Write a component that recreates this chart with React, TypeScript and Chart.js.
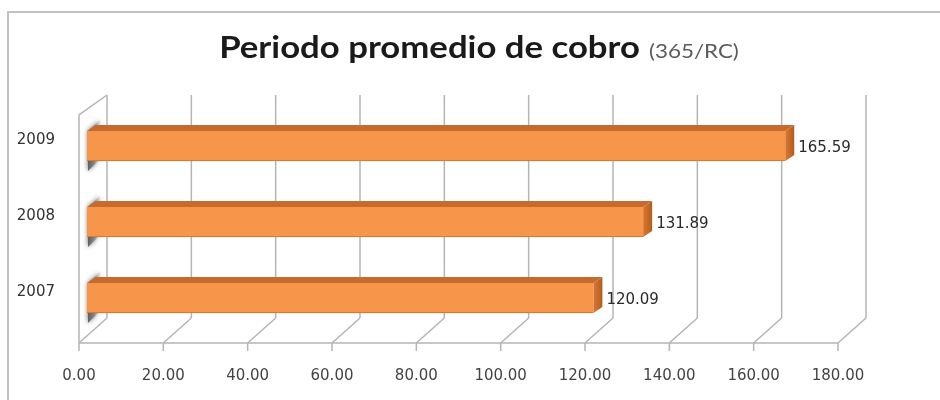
import React, { useEffect, useRef } from 'react';
import { Chart, registerables } from 'chart.js';

Chart.register(...registerables);

// ---- data ----
const years: string[] = ['2009', '2008', '2007'];
const values: number[] = [165.59, 131.89, 120.09];
const xMin = 0;
const xMax = 180;
const xStep = 20;
const titleMain = 'Periodo promedio de cobro';
const titleSub = '(365/RC)';

// ---- 3D geometry (offsets relative to the bar plane) ----
const FRONT = { dx: -8, dy: 7 };
const BACK = { dx: 20, dy: -18 };
const BAR_DEPTH = { dx: 9, dy: -6 };

const GRID = '#b4b4b4';

const chart3dPlugin = {
  id: 'chart3d',
  beforeDraw(chart: any) {
    const { ctx, width, height } = chart;
    ctx.save();
    ctx.fillStyle = '#ffffff';
    ctx.fillRect(0, 0, width, height);
    // outer frame
    ctx.strokeStyle = '#c2c2c2';
    ctx.lineWidth = 2;
    ctx.beginPath();
    ctx.moveTo(8, height);
    ctx.lineTo(8, 12);
    ctx.lineTo(width, 12);
    ctx.stroke();
    // title (horizontally stretched to mimic the condensed original face)
    ctx.textBaseline = 'alphabetic';
    ctx.textAlign = 'left';
    const sx = 1.12;
    ctx.font = 'bold 31px Lato';
    const w1 = ctx.measureText(titleMain).width * sx;
    ctx.font = '20px Lato';
    const w2 = ctx.measureText(titleSub).width * sx;
    const gap = 9;
    const cx = (width + 18) / 2;
    const x0 = cx - (w1 + gap + w2) / 2;
    const base = 58;
    ctx.save();
    ctx.translate(x0, base);
    ctx.scale(sx, 1);
    ctx.fillStyle = '#1a1a1a';
    ctx.font = 'bold 31px Lato';
    ctx.fillText(titleMain, 0, 0);
    ctx.restore();
    ctx.save();
    ctx.translate(x0 + w1 + gap, base);
    ctx.scale(sx, 1);
    ctx.fillStyle = '#5a5a5a';
    ctx.font = '20px Lato';
    ctx.fillText(titleSub, 0, 0);
    ctx.restore();
    ctx.restore();
  },
  beforeDatasetsDraw(chart: any) {
    const { ctx, chartArea, scales } = chart;
    const xs = scales.x;
    const top = chartArea.top;
    const bottom = chartArea.bottom;
    ctx.save();
    ctx.strokeStyle = GRID;
    ctx.lineWidth = 1.5;
    const ticks: number[] = [];
    for (let v = xMin; v <= xMax + 1e-9; v += xStep) ticks.push(v);
    const backTop = top - 13;
    const backBottom = bottom + BACK.dy;
    const frontY = bottom + FRONT.dy;
    ticks.forEach((v) => {
      const px = xs.getPixelForValue(v);
      ctx.beginPath();
      ctx.moveTo(px + BACK.dx, backTop);
      ctx.lineTo(px + BACK.dx, backBottom);
      ctx.stroke();
      ctx.beginPath();
      ctx.moveTo(px + FRONT.dx, frontY);
      ctx.lineTo(px + BACK.dx, backBottom);
      ctx.stroke();
      ctx.beginPath();
      ctx.moveTo(px + FRONT.dx, frontY);
      ctx.lineTo(px + FRONT.dx, frontY + 8);
      ctx.stroke();
    });
    const p0 = xs.getPixelForValue(xMin);
    const p1 = xs.getPixelForValue(xMax);
    ctx.beginPath();
    ctx.moveTo(p0 + FRONT.dx, frontY);
    ctx.lineTo(p1 + FRONT.dx, frontY);
    ctx.stroke();
    const wallFrontTop = top + 7;
    ctx.beginPath();
    ctx.moveTo(p0 + FRONT.dx, frontY);
    ctx.lineTo(p0 + FRONT.dx, wallFrontTop);
    ctx.lineTo(p0 + BACK.dx, backTop);
    ctx.stroke();

    // bar shadows on the left wall
    const meta = chart.getDatasetMeta(0);
    meta.data.forEach((bar: any) => {
      const { y, base, height } = bar.getProps(['y', 'base', 'height'], true);
      const t = y - height / 2;
      const b = y + height / 2;
      ctx.save();
      ctx.shadowColor = 'rgba(60,60,60,0.9)';
      ctx.shadowBlur = 5;
      const g = ctx.createLinearGradient(base, 0, base + 13, 0);
      g.addColorStop(0, 'rgba(80,80,80,0.95)');
      g.addColorStop(0.6, 'rgba(130,130,130,0.7)');
      g.addColorStop(1, 'rgba(190,190,190,0.3)');
      ctx.fillStyle = g;
      ctx.beginPath();
      ctx.moveTo(base + 1, b + 10);
      ctx.lineTo(base + 1, t);
      ctx.lineTo(base + 13, t - 11);
      ctx.lineTo(base + 13, b - 2);
      ctx.closePath();
      ctx.fill();
      ctx.restore();
    });
    ctx.restore();
  },
  afterDatasetsDraw(chart: any) {
    const { ctx } = chart;
    const meta = chart.getDatasetMeta(0);
    ctx.save();
    meta.data.forEach((bar: any, i: number) => {
      const { x, y, base, height } = bar.getProps(['x', 'y', 'base', 'height'], true);
      const t = y - height / 2;
      const b = y + height / 2;
      const dx = BAR_DEPTH.dx;
      const dy = BAR_DEPTH.dy;
      // top face
      ctx.fillStyle = '#c66a2d';
      ctx.beginPath();
      ctx.moveTo(base, t);
      ctx.lineTo(x, t);
      ctx.lineTo(x + dx, t + dy);
      ctx.lineTo(base + dx, t + dy);
      ctx.closePath();
      ctx.fill();
      // right face
      const g = ctx.createLinearGradient(x, 0, x + dx, 0);
      g.addColorStop(0, '#d9782f');
      g.addColorStop(1, '#b35c20');
      ctx.fillStyle = g;
      ctx.beginPath();
      ctx.moveTo(x, t);
      ctx.lineTo(x + dx, t + dy);
      ctx.lineTo(x + dx, b + dy);
      ctx.lineTo(x, b);
      ctx.closePath();
      ctx.fill();
      // value label
      ctx.fillStyle = '#2a2a2a';
      ctx.font = '15px "DejaVu Sans"';
      ctx.textAlign = 'left';
      ctx.textBaseline = 'middle';
      ctx.fillText(values[i].toFixed(2), x + dx + 4, y + 2);
    });
    ctx.restore();
  },
};

export default function App() {
  const ref = useRef<HTMLCanvasElement | null>(null);
  useEffect(() => {
    document.body.style.margin = '0';
    const canvas = ref.current;
    if (!canvas) return;
    const chart = new Chart(canvas, {
      type: 'bar',
      data: {
        labels: years,
        datasets: [
          {
            data: values,
            backgroundColor: '#f7964a',
            borderColor: '#cf6e2c',
            borderWidth: { top: 0, right: 0, bottom: 1, left: 0 },
            borderSkipped: false,
            barThickness: 30,
          },
        ],
      },
      options: {
        indexAxis: 'y',
        responsive: false,
        animation: false,
        devicePixelRatio: 1,
        layout: { padding: { left: 0, right: 94, top: 108, bottom: 0 } },
        plugins: {
          legend: { display: false },
          title: { display: false },
          tooltip: { enabled: false },
        },
        scales: {
          x: {
            type: 'linear',
            min: xMin,
            max: xMax,
            grid: { display: false, drawTicks: false },
            border: { display: false },
            ticks: {
              stepSize: xStep,
              padding: 31,
              labelOffset: FRONT.dx,
              color: '#444444',
              font: { family: 'DejaVu Sans', size: 15 },
              callback: (v: any) => Number(v).toFixed(2),
            },
            afterFit: (s: any) => {
              s.height = 64;
            },
          },
          y: {
            type: 'category',
            grid: { display: false, drawTicks: false },
            border: { display: false },
            ticks: {
              padding: 32,
              labelOffset: -6,
              color: '#333333',
              font: { family: 'DejaVu Sans', size: 15 },
            },
            afterFit: (s: any) => {
              s.width = 87;
            },
          },
        },
      },
      plugins: [chart3dPlugin],
    } as any);
    return () => chart.destroy();
  }, []);
  return <canvas ref={ref} width={940} height={400} style={{ display: 'block', width: 940, height: 400 }} />;
}
